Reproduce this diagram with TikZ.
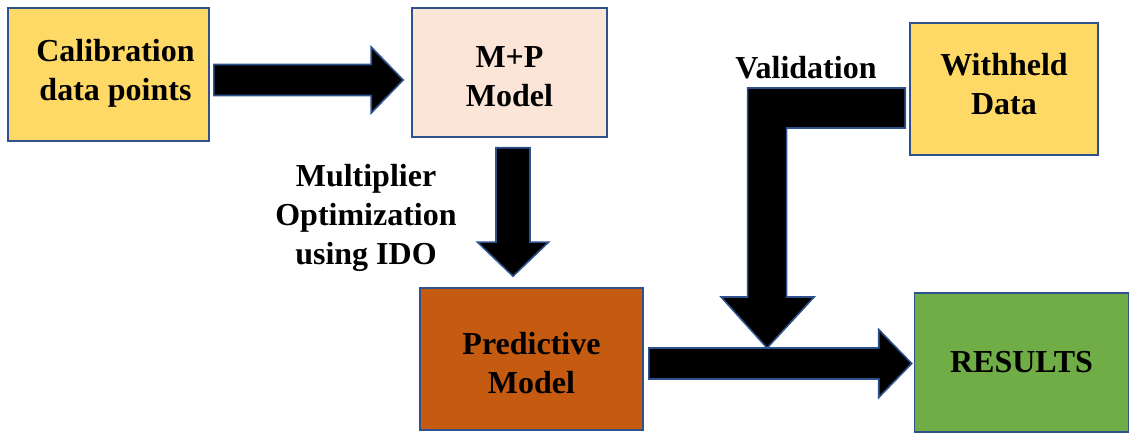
\documentclass[tikz,border=0pt]{standalone}
\usepackage{fontspec}
\setmainfont{Liberation Serif}
\usetikzlibrary{calc}
\definecolor{bordc}{HTML}{2F528F}
\definecolor{yel}{HTML}{FFD966}
\definecolor{peach}{HTML}{FBE5D6}
\definecolor{rust}{HTML}{C55A11}
\definecolor{grn}{HTML}{70AD47}
\tikzset{
  box/.style={draw=bordc, line width=1.6pt, rectangle, inner sep=0pt},
  txt/.style={align=center, inner sep=0pt, font=\fontsize{32}{39}\selectfont\bfseries},
  blk/.style={draw=bordc, fill=black, line width=1.6pt, line join=miter}
}
\begin{document}
\begin{tikzpicture}[x=1pt,y=-1pt]
\useasboundingbox (0,0) rectangle (1133,435);
\node[box, fill=yel, minimum width=201pt, minimum height=133pt,
  label={[txt,xshift=7pt,yshift=1pt]center:Calibration\\data points}] (cal) at (108.5,74.5) {};
\node[box, fill=peach, minimum width=195pt, minimum height=129pt,
  label={[txt,yshift=-4pt]center:M+P\\Model}] (mp) at (509.5,72.5) {};
\node[box, fill=yel, minimum width=188pt, minimum height=132pt,
  label={[txt,yshift=5pt]center:Withheld\\Data}] (wd) at (1004,89) {};
\node[box, fill=rust, minimum width=223pt, minimum height=142pt,
  label={[txt,yshift=-4pt]center:Predictive\\Model}] (pred) at (531.5,359) {};
\node[box, fill=grn, minimum width=214pt, minimum height=139pt,
  label={[txt]center:RESULTS}] (res) at (1021.5,362.5) {};
\node[txt] (mult) at (366,218) {Multiplier\\Optimization\\using IDO};
\node[txt] (valid) at (806,68) {Validation};
% arrow 1: cal -> mp
\coordinate (a1s) at ($(cal.east)+(4,5.5)$);
\coordinate (a1e) at ($(mp.west)+(-8,7.5)$);
\draw[blk] ($(a1s)+(0,-15.5)$) -- ($(a1e)+(-32,-15.5)$) -- ($(a1e)+(-32,-33)$) -- (a1e)
  -- ($(a1e)+(-32,33)$) -- ($(a1e)+(-32,15.5)$) -- ($(a1s)+(0,15.5)$) -- cycle;
% arrow 2: mp -> pred
\coordinate (a2s) at ($(mp.south)+(3.5,10)$);
\coordinate (a2e) at ($(pred.north)+(-18.5,-11)$);
\draw[blk] ($(a2s)+(-17,0)$) -- ($(a2e)+(-17,-34)$) -- ($(a2e)+(-35.5,-34)$) -- (a2e)
  -- ($(a2e)+(35.5,-34)$) -- ($(a2e)+(17,-34)$) -- ($(a2s)+(17,0)$) -- cycle;
% arrow 4: pred -> res
\coordinate (a4s) at ($(pred.east)+(5,4.5)$);
\coordinate (a4e) at ($(res.west)+(-2,1)$);
\draw[blk] ($(a4s)+(0,-15.5)$) -- ($(a4e)+(-33,-15.5)$) -- ($(a4e)+(-33,-34)$) -- (a4e)
  -- ($(a4e)+(-33,34)$) -- ($(a4e)+(-33,15.5)$) -- ($(a4s)+(0,15.5)$) -- cycle;
% arrow 3: wd -> bent down onto arrow 4
\coordinate (a3s) at ($(wd.west)+(-4,19)$);
\coordinate (a3e) at ($(a4s)!0.45!(a4e)$);
\coordinate (a3t) at ($(a3e)+(0,-15.5)$);
\draw[blk] ($(a3s)+(0,-20)$) -- ($(a3t|-a3s)+(-19.5,-20)$) -- ($(a3t)+(-19.5,-51)$)
  -- ($(a3t)+(-46,-51)$) -- (a3t) -- ($(a3t)+(47,-51)$) -- ($(a3t)+(19.5,-51)$)
  -- ($(a3t|-a3s)+(19.5,20)$) -- ($(a3s)+(0,20)$) -- cycle;
\end{tikzpicture}
\end{document}
